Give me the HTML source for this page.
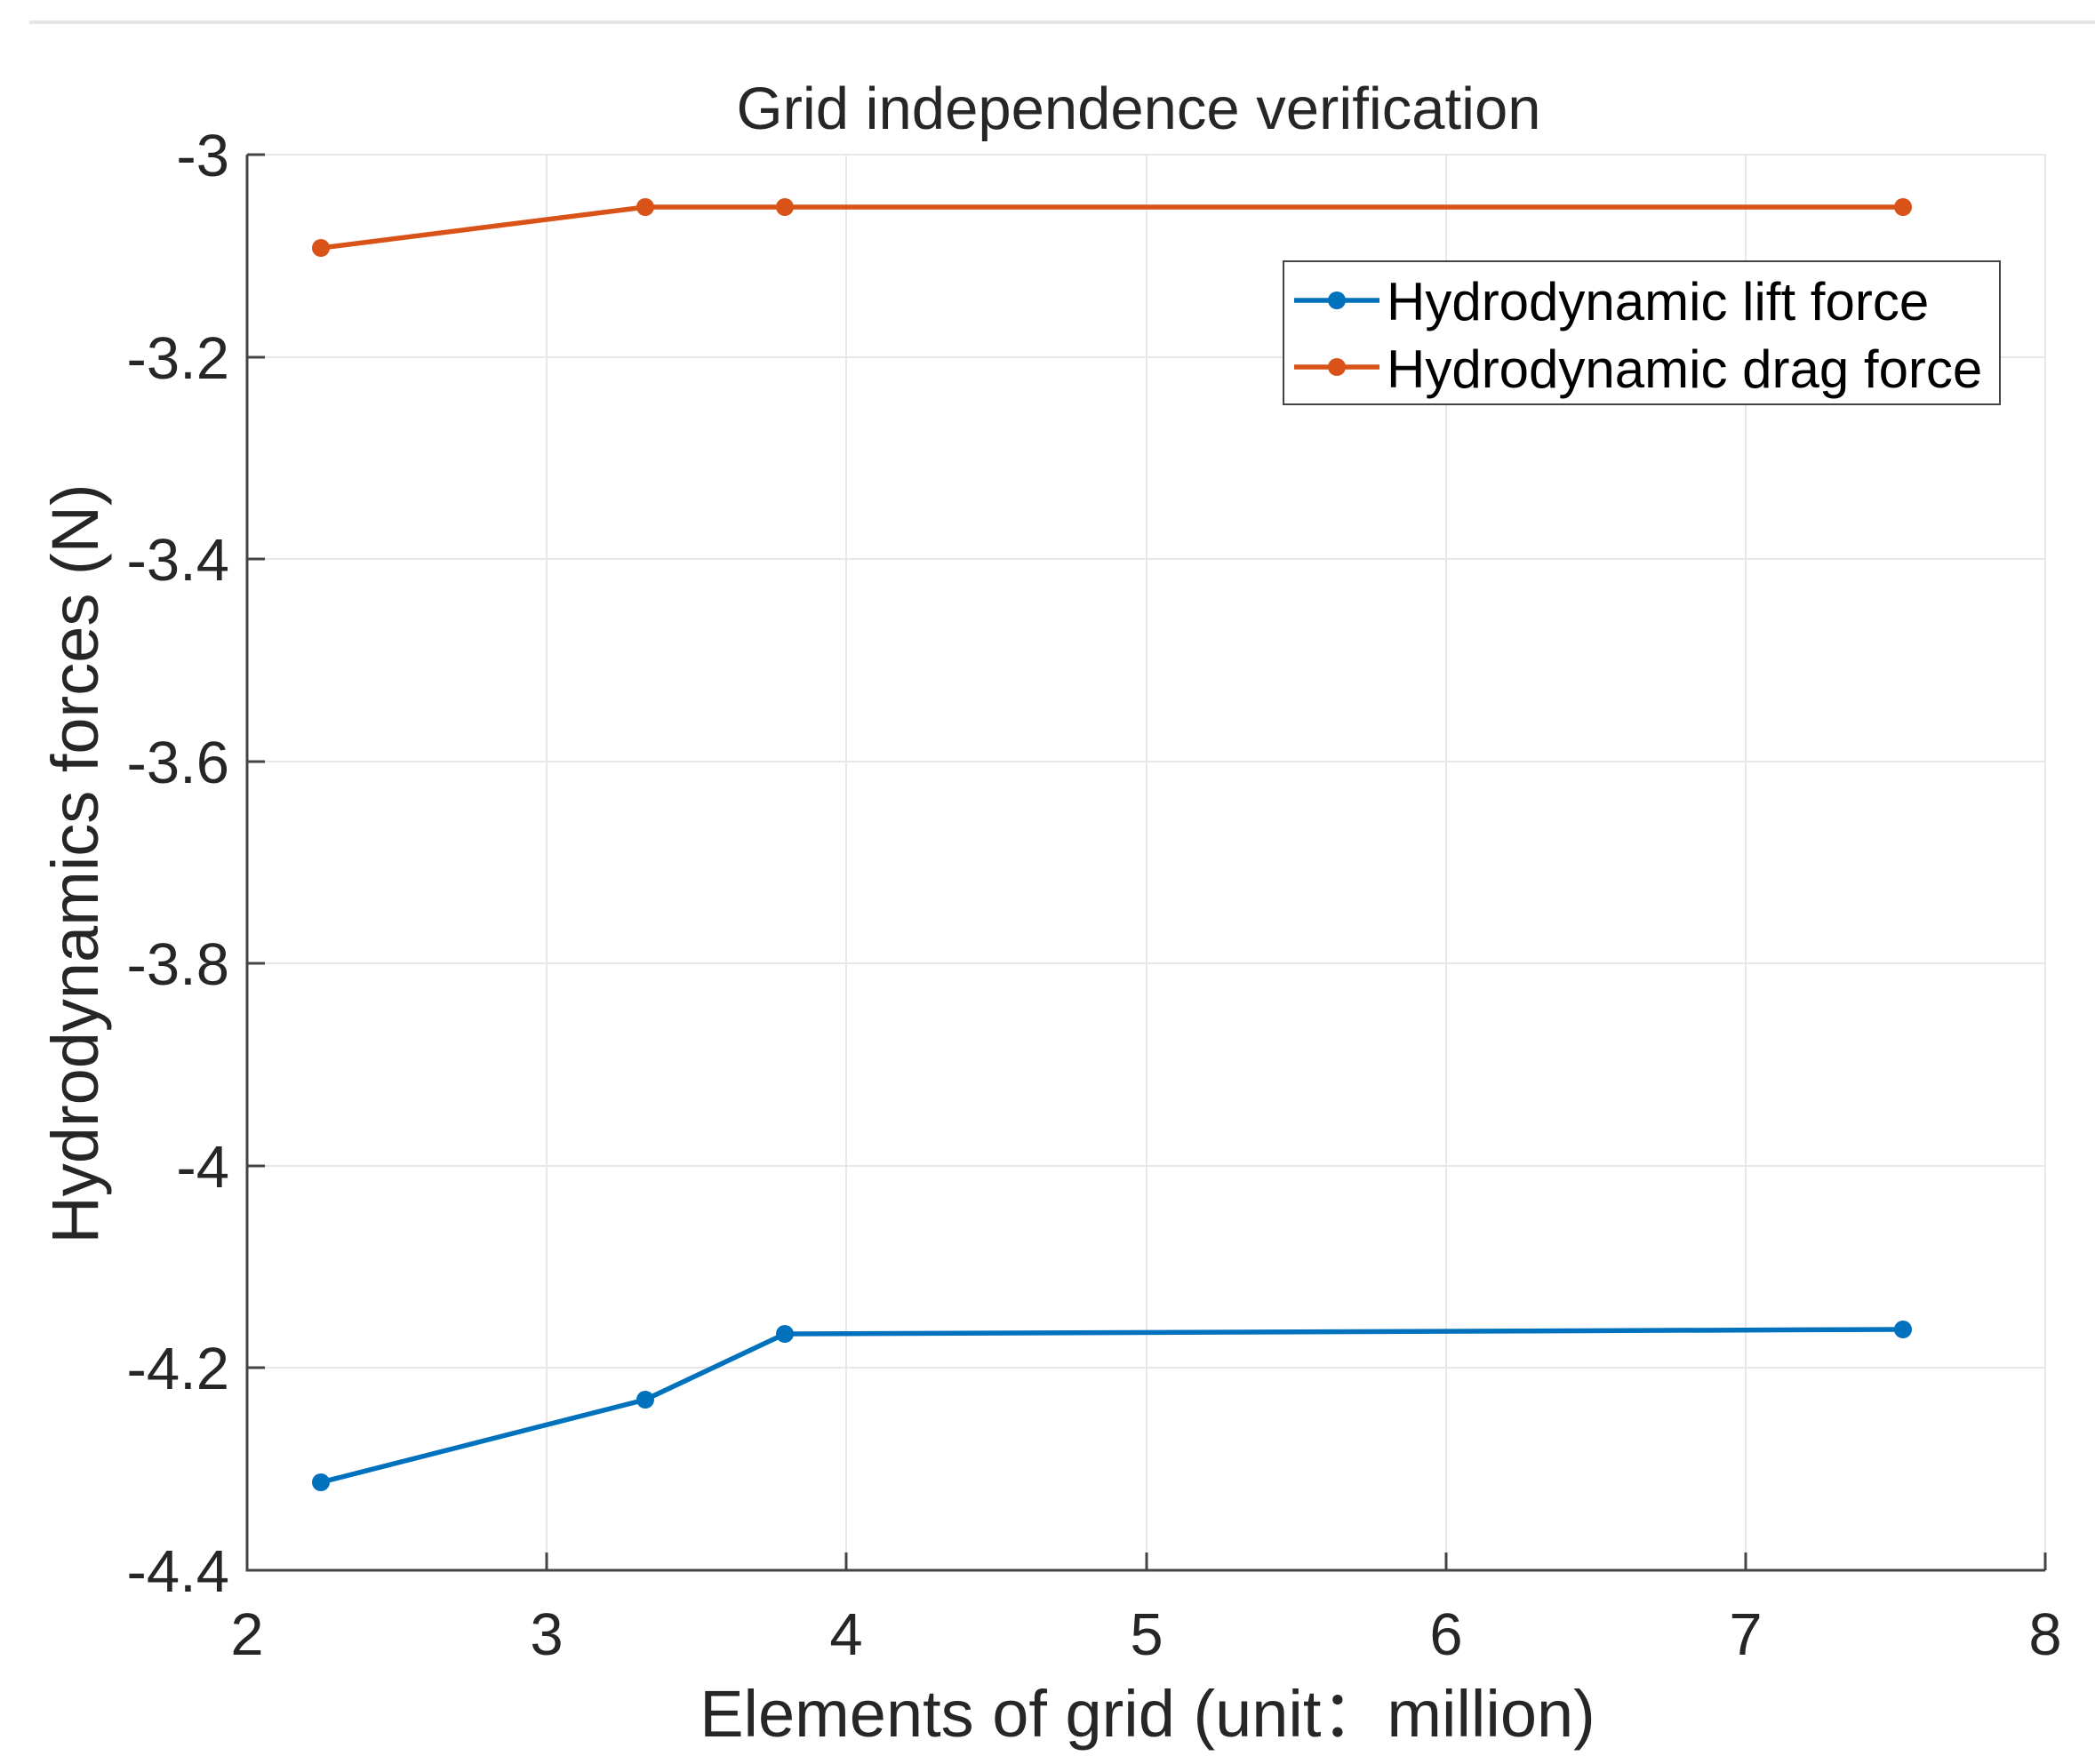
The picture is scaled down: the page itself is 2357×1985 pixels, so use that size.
<!DOCTYPE html>
<html><head><meta charset="utf-8"><style>body{margin:0;background:#fff}</style></head>
<body>
<svg width="2357" height="1980" xmlns="http://www.w3.org/2000/svg" font-family="'Liberation Sans', 'Noto Sans CJK SC', sans-serif">
<rect width="2357" height="1980" fill="#fff"/>
<line x1="33" y1="25" x2="2357" y2="25" stroke="#e6e6e6" stroke-width="4"/>
<g stroke="#e8e8e8" stroke-width="2">
<line x1="615" y1="174" x2="615" y2="1767"/><line x1="952" y1="174" x2="952" y2="1767"/>
<line x1="1290" y1="174" x2="1290" y2="1767"/><line x1="1627" y1="174" x2="1627" y2="1767"/>
<line x1="1964" y1="174" x2="1964" y2="1767"/><line x1="2301" y1="174" x2="2301" y2="1767"/>
<line x1="278" y1="174" x2="2301" y2="174"/><line x1="278" y1="402" x2="2301" y2="402"/>
<line x1="278" y1="629" x2="2301" y2="629"/><line x1="278" y1="857" x2="2301" y2="857"/>
<line x1="278" y1="1084" x2="2301" y2="1084"/><line x1="278" y1="1312" x2="2301" y2="1312"/>
<line x1="278" y1="1539" x2="2301" y2="1539"/>
</g>
<g stroke="#444" stroke-width="3" fill="none">
<polyline points="278,174 278,1767 2301,1767"/>
<line x1="278" y1="174" x2="298" y2="174"/><line x1="278" y1="402" x2="298" y2="402"/>
<line x1="278" y1="629" x2="298" y2="629"/><line x1="278" y1="857" x2="298" y2="857"/>
<line x1="278" y1="1084" x2="298" y2="1084"/><line x1="278" y1="1312" x2="298" y2="1312"/>
<line x1="278" y1="1539" x2="298" y2="1539"/>
<line x1="615" y1="1767" x2="615" y2="1747"/><line x1="952" y1="1767" x2="952" y2="1747"/>
<line x1="1290" y1="1767" x2="1290" y2="1747"/><line x1="1627" y1="1767" x2="1627" y2="1747"/>
<line x1="1964" y1="1767" x2="1964" y2="1747"/><line x1="2301" y1="1767" x2="2301" y2="1747"/>
</g>
<g font-size="67" fill="#262626" text-anchor="end">
<text x="258" y="198">-3</text><text x="258" y="426">-3.2</text><text x="258" y="653">-3.4</text>
<text x="258" y="881">-3.6</text><text x="258" y="1108">-3.8</text><text x="258" y="1336">-4</text>
<text x="258" y="1563">-4.2</text><text x="258" y="1791">-4.4</text>
</g>
<g font-size="67" fill="#262626" text-anchor="middle">
<text x="278" y="1862">2</text><text x="615" y="1862">3</text><text x="952" y="1862">4</text>
<text x="1290" y="1862">5</text><text x="1627" y="1862">6</text><text x="1964" y="1862">7</text>
<text x="2301" y="1862">8</text>
<text x="1281" y="145">Grid independence verification</text>
<text x="1291" y="1954" font-size="74">Elements of grid (unit：million)</text>
<text transform="translate(110,972) rotate(-90)" font-size="74">Hydrodynamics forces (N)</text>
</g>
<g fill="none" stroke-width="5.5">
<polyline stroke="#d95319" points="361,279 726,233 883,233 2141,233"/>
<polyline stroke="#0072bd" points="361,1668 726,1575 883,1501 2141,1496"/>
</g>
<g fill="#d95319"><circle cx="361" cy="279" r="10"/><circle cx="726" cy="233" r="10"/><circle cx="883" cy="233" r="10"/><circle cx="2141" cy="233" r="10"/></g>
<g fill="#0072bd"><circle cx="361" cy="1668" r="10"/><circle cx="726" cy="1575" r="10"/><circle cx="883" cy="1501" r="10"/><circle cx="2141" cy="1496" r="10"/></g>
<rect x="1444" y="294" width="806" height="161" fill="#fff" stroke="#444" stroke-width="2"/>
<line x1="1456" y1="338" x2="1552" y2="338" stroke="#0072bd" stroke-width="5.5"/><circle cx="1504" cy="338" r="10" fill="#0072bd"/>
<line x1="1456" y1="413" x2="1552" y2="413" stroke="#d95319" stroke-width="5.5"/><circle cx="1504" cy="413" r="10" fill="#d95319"/>
<g font-size="60" fill="#000"><text x="1560" y="360">Hydrodynamic lift force</text><text x="1560" y="436">Hydrodynamic drag force</text></g>
</svg>
</body></html>
